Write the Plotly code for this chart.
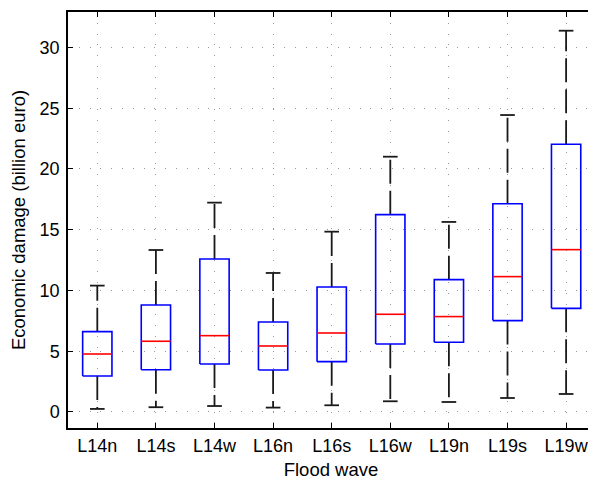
import plotly.graph_objects as go

categories = ["L14n", "L14s", "L14w", "L16n", "L16s", "L16w", "L19n", "L19s", "L19w"]
lower_whisker = [0.25, 0.39, 0.49, 0.36, 0.55, 0.88, 0.82, 1.15, 1.48]
q1 = [2.96, 3.48, 3.95, 3.46, 4.14, 5.60, 5.74, 7.52, 8.53]
median = [4.77, 5.82, 6.28, 5.43, 6.50, 8.04, 7.85, 11.14, 13.36]
q3 = [6.61, 8.81, 12.59, 7.41, 10.29, 16.24, 10.89, 17.14, 22.03]
upper_whisker = [10.40, 13.33, 17.23, 11.44, 14.84, 21.01, 15.64, 24.44, 31.38]
y_ticks = [0, 5, 10, 15, 20, 25, 30]

BOX_HALF = 0.25
CAP_HALF = 0.125
pos = list(range(1, len(categories) + 1))

bx, by, mx, my, wx, wy, cx, cy = [], [], [], [], [], [], [], []
for p, lo, a, m, b, hi in zip(pos, lower_whisker, q1, median, q3, upper_whisker):
    bx += [p - BOX_HALF, p + BOX_HALF, p + BOX_HALF, p - BOX_HALF, p - BOX_HALF, None]
    by += [a, a, b, b, a, None]
    mx += [p - BOX_HALF, p + BOX_HALF, None]
    my += [m, m, None]
    wx += [p, p, None, p, p, None]
    wy += [b, hi, None, a, lo, None]
    cx += [p - CAP_HALF, p + CAP_HALF, None, p - CAP_HALF, p + CAP_HALF, None]
    cy += [hi, hi, None, lo, lo, None]

fig = go.Figure()
fig.add_trace(go.Scatter(x=wx, y=wy, mode="lines", hoverinfo="skip",
                         line=dict(color="#1a1a1a", width=1.8, dash="24px,7px")))
fig.add_trace(go.Scatter(x=cx, y=cy, mode="lines", hoverinfo="skip",
                         line=dict(color="#1a1a1a", width=1.8)))
fig.add_trace(go.Scatter(x=bx, y=by, mode="lines", hoverinfo="skip",
                         line=dict(color="#0000ff", width=1.6)))
fig.add_trace(go.Scatter(x=mx, y=my, mode="lines", hoverinfo="skip",
                         line=dict(color="#ff0000", width=1.6)))

font_family = "Liberation Sans, Arial, Helvetica, sans-serif"
# the page body has an 8px default margin, so the figure is offset by 8px
fig.update_layout(
    width=588, height=472,
    margin=dict(l=60, r=0, t=4, b=52),
    paper_bgcolor="white", plot_bgcolor="white",
    showlegend=False,
    font=dict(family=font_family, size=18, color="black"),
    xaxis=dict(
        range=[0.5, 9.476],
        tickmode="array", tickvals=pos, ticktext=categories,
        ticks="inside", ticklen=5, tickwidth=1.2, tickcolor="black",
        showline=True, linecolor="black", linewidth=1.5, mirror="ticks",
        showgrid=True, gridcolor="#999999", gridwidth=1, griddash="1px,9.8px",
        zeroline=False, ticklabelstandoff=1,
        title=dict(text="Flood wave", font=dict(size=18.5), standoff=8),
        tickfont=dict(size=18),
    ),
    yaxis=dict(
        range=[-1.32, 32.92],
        tickmode="array", tickvals=y_ticks, ticktext=[str(v) for v in y_ticks],
        ticks="inside", ticklen=5, tickwidth=1.2, tickcolor="black",
        showline=True, linecolor="black", linewidth=1.5, mirror="ticks",
        showgrid=True, gridcolor="#999999", gridwidth=1, griddash="1px,9.8px",
        zeroline=False, ticklabelstandoff=3,
        title=dict(text="Economic damage (billion euro)", font=dict(size=18.5), standoff=11),
        tickfont=dict(size=18),
    ),
)

fig.write_html("out.html")
